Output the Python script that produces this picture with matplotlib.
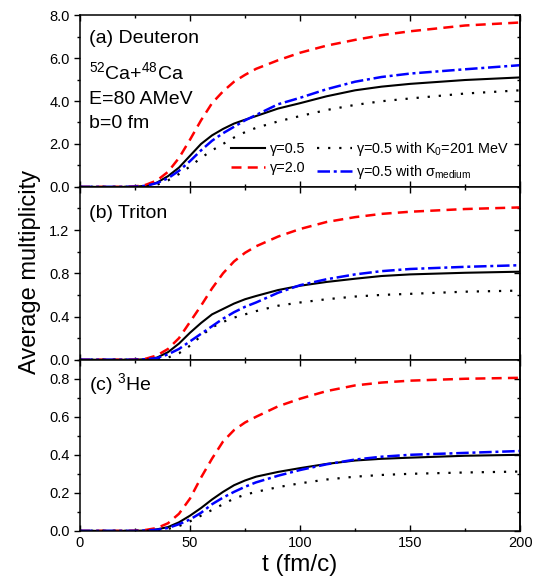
import numpy as np
import matplotlib
matplotlib.use("Agg")
import matplotlib.pyplot as plt
from matplotlib.ticker import MultipleLocator, FixedLocator, FormatStrFormatter

plt.rcParams['font.family'] = ['Liberation Sans', 'DejaVu Sans']
plt.rcParams['mathtext.fontset'] = 'custom'
plt.rcParams['mathtext.rm'] = 'Liberation Sans'
plt.rcParams['mathtext.it'] = 'Liberation Sans:italic'

# time grid (fm/c)
t = [0, 20, 25, 30, 35, 40, 45, 50, 55, 60, 65, 70, 75, 80, 90, 100, 112, 125, 137, 150, 175, 200]

# (a) Deuteron
d_g05 = [0, 0, 0.01, 0.05, 0.2, 0.5, 0.9, 1.45, 2.0, 2.4, 2.7, 2.95, 3.13, 3.3, 3.65, 3.9, 4.22, 4.5, 4.67, 4.8, 4.98, 5.1]
d_g20 = [0, 0, 0.02, 0.1, 0.3, 0.7, 1.35, 2.2, 3.1, 3.9, 4.45, 4.9, 5.22, 5.5, 5.9, 6.25, 6.58, 6.85, 7.07, 7.25, 7.52, 7.66]
d_k0 = [0, 0, 0, 0.02, 0.1, 0.3, 0.6, 0.95, 1.35, 1.7, 2.0, 2.3, 2.55, 2.75, 3.05, 3.3, 3.58, 3.82, 3.99, 4.12, 4.35, 4.5]
d_sig = [0, 0, 0.01, 0.05, 0.18, 0.4, 0.75, 1.2, 1.7, 2.15, 2.5, 2.8, 3.1, 3.35, 3.85, 4.15, 4.55, 4.9, 5.12, 5.28, 5.48, 5.67]

# (b) Triton
t_g05 = [0, 0, 0, 0.005, 0.02, 0.07, 0.15, 0.25, 0.34, 0.42, 0.47, 0.52, 0.56, 0.59, 0.645, 0.685, 0.72, 0.75, 0.775, 0.79, 0.805, 0.815]
t_g20 = [0, 0, 0.002, 0.01, 0.04, 0.1, 0.2, 0.35, 0.5, 0.66, 0.8, 0.91, 0.99, 1.05, 1.14, 1.21, 1.275, 1.32, 1.35, 1.37, 1.395, 1.41]
t_k0 = [0, 0, 0, 0, 0.005, 0.02, 0.06, 0.13, 0.22, 0.3, 0.35, 0.39, 0.42, 0.45, 0.5, 0.53, 0.56, 0.585, 0.6, 0.61, 0.63, 0.64]
t_sig = [0, 0, 0, 0.005, 0.015, 0.05, 0.1, 0.17, 0.24, 0.31, 0.38, 0.44, 0.49, 0.53, 0.62, 0.69, 0.745, 0.79, 0.82, 0.84, 0.86, 0.875]

# (c) 3He
h_g05 = [0, 0, 0, 0.002, 0.008, 0.02, 0.045, 0.08, 0.12, 0.165, 0.205, 0.24, 0.265, 0.285, 0.31, 0.33, 0.352, 0.37, 0.379, 0.385, 0.395, 0.40]
h_g20 = [0, 0, 0.001, 0.005, 0.015, 0.04, 0.09, 0.17, 0.28, 0.38, 0.47, 0.53, 0.57, 0.6, 0.655, 0.695, 0.735, 0.765, 0.78, 0.79, 0.8, 0.805]
h_k0 = [0, 0, 0, 0, 0.003, 0.01, 0.025, 0.05, 0.08, 0.11, 0.14, 0.17, 0.19, 0.205, 0.23, 0.25, 0.27, 0.285, 0.294, 0.3, 0.307, 0.312]
h_sig = [0, 0, 0, 0.002, 0.006, 0.015, 0.035, 0.06, 0.095, 0.14, 0.175, 0.205, 0.232, 0.255, 0.29, 0.32, 0.35, 0.375, 0.39, 0.4, 0.41, 0.42]

yticks = [[0, 2, 4, 6, 8], [0, 0.4, 0.8, 1.2], [0, 0.2, 0.4, 0.6, 0.8]]
panels = [
    (d_g05, d_g20, d_k0, d_sig, 8.0, 1.0, '(a) Deuteron'),
    (t_g05, t_g20, t_k0, t_sig, 1.6, 0.2, '(b) Triton'),
    (h_g05, h_g20, h_k0, h_sig, 0.9, 0.1, r'(c) $\mathregular{^{3}}$He'),
]

fig = plt.figure(figsize=(5.33, 5.84), dpi=100)
left, width = 0.150, 0.826
bottoms = [0.680, 0.384, 0.091]
heights = [0.294, 0.296, 0.293]

axes = []
for i, (g05, g20, k0, sig, ymax, mnr, label) in enumerate(panels):
    ax = fig.add_axes([left, bottoms[i], width, heights[i]])
    ax.plot(t, g05, color='black', lw=1.5, label='γ=0.5')
    ax.plot(t, g20, color='red', lw=1.8, ls=(0, (4, 2.5)), label='γ=2.0')
    ax.plot(t, k0, color='black', lw=1.6, ls=(0, (1, 4)),
            label=r'γ=0.5 with K$_\mathregular{0}$=201 MeV')
    ax.plot(t, sig, color='blue', lw=1.8, ls=(0, (5, 1.5, 1.2, 1.5)),
            label=r'γ=0.5 with $\mathregular{\sigma_{medium}}$')
    ax.set_xlim(0, 200)
    ax.set_ylim(0, ymax)
    ax.xaxis.set_major_locator(MultipleLocator(50))
    ax.xaxis.set_minor_locator(MultipleLocator(25))
    ax.yaxis.set_major_locator(FixedLocator(yticks[i]))
    ax.yaxis.set_minor_locator(MultipleLocator(mnr))
    ax.yaxis.set_major_formatter(FormatStrFormatter('%.1f'))
    ax.tick_params(axis='y', which='both', left=True, right=False, direction='out', labelsize=10.5)
    ax.tick_params(axis='x', which='both', top=True, bottom=True, direction='in', labelsize=10.5)
    ax.tick_params(which='major', length=4, width=1)
    ax.tick_params(which='minor', length=2.5, width=1)
    # right-hand ticks pointing inward
    sec = ax.secondary_yaxis('right')
    sec.yaxis.set_major_locator(FixedLocator(yticks[i]))
    sec.yaxis.set_minor_locator(MultipleLocator(mnr))
    sec.tick_params(which='both', direction='in', labelright=False)
    sec.tick_params(which='major', length=4, width=1)
    sec.tick_params(which='minor', length=2.5, width=1)
    sec.spines['right'].set_linewidth(1.1)
    for sp in ax.spines.values():
        sp.set_linewidth(1.1)
    if i < 2:
        ax.tick_params(axis='x', labelbottom=False)
    ax.text(0.02, 0.84 if i == 0 else 0.82, label, transform=ax.transAxes, fontsize=14)
    axes.append(ax)

ax0 = axes[0]
ax0.text(0.02, 0.63, r'$\mathregular{^{52}}$Ca+$\mathregular{^{48}}$Ca', transform=ax0.transAxes, fontsize=14)
ax0.text(0.02, 0.48, 'E=80 AMeV', transform=ax0.transAxes, fontsize=14)
ax0.text(0.02, 0.345, 'b=0 fm', transform=ax0.transAxes, fontsize=14)
ax0.legend(ncol=2, frameon=False, fontsize=10.4, loc='lower right',
           bbox_to_anchor=(0.99, -0.01), handlelength=2.4, handletextpad=0.3,
           columnspacing=0.8, labelspacing=0.35, borderaxespad=0.1)

axes[2].set_xlabel('t (fm/c)', fontsize=17.5, labelpad=3)
fig.text(0.056, 0.534, 'Average multiplicity', rotation=90, fontsize=17,
         ha='center', va='center')

fig.savefig('out.png', dpi=100)
